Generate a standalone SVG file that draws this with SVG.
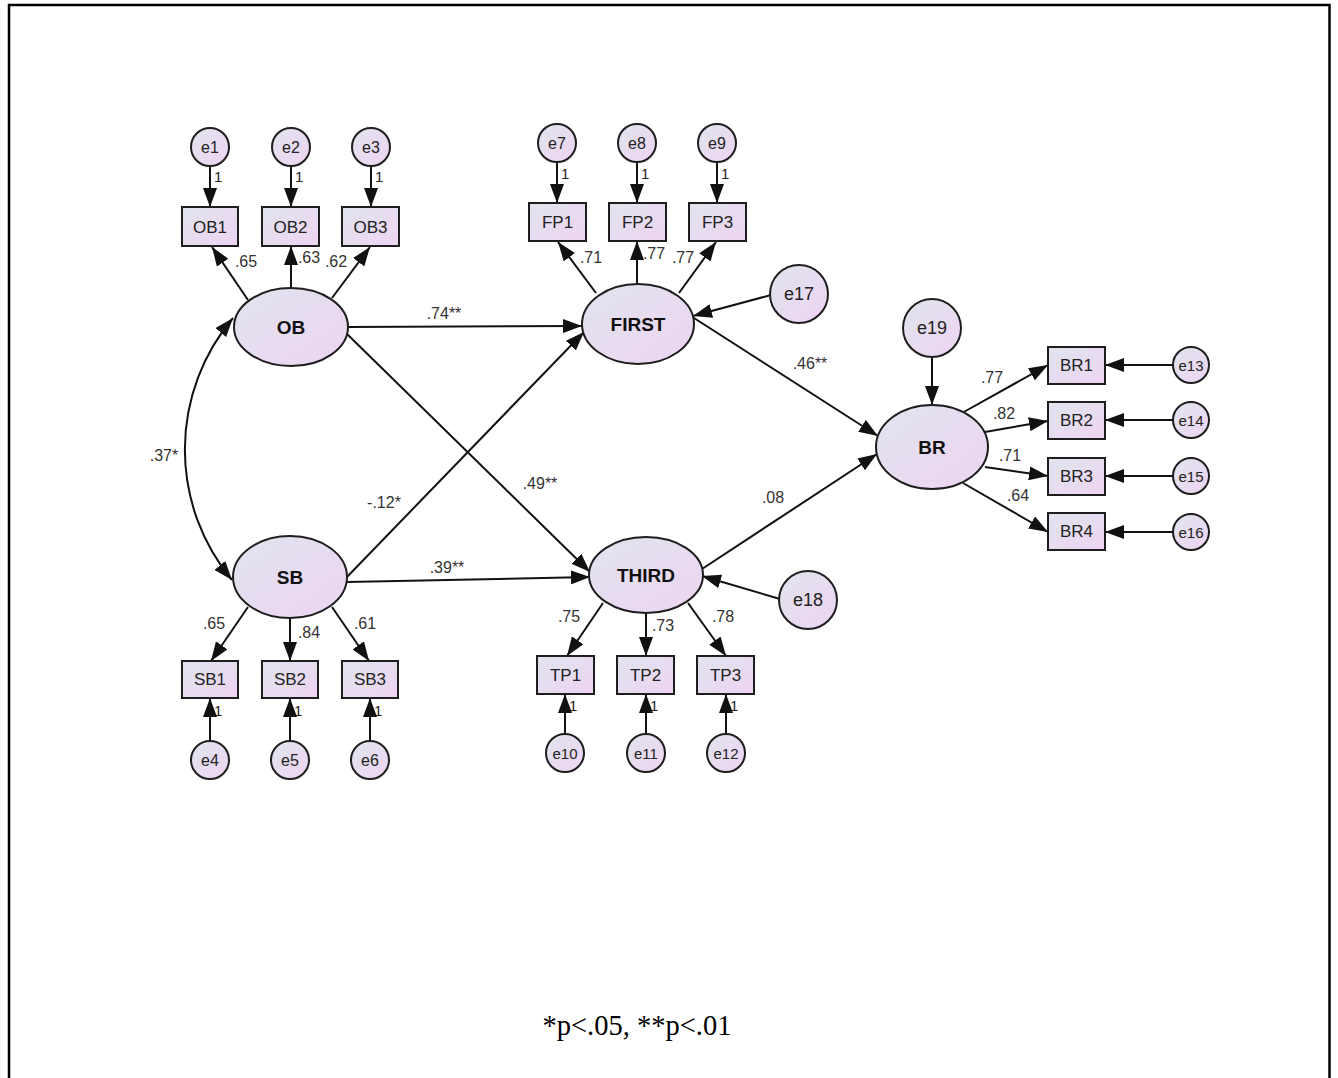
<svg xmlns="http://www.w3.org/2000/svg" width="1338" height="1078" viewBox="0 0 1338 1078">
  <style>
    .shape { fill: url(#fillGrad); stroke: #1e1e1e; stroke-width: 2; }
    .edge { fill: none; stroke: #111; stroke-width: 2; marker-end: url(#arrow); }
    .lat { font-family: "Liberation Sans", Arial, sans-serif; font-weight: bold; font-size: 19px; fill: #111; text-anchor: middle; dominant-baseline: central; }
    .obs { font-family: "Liberation Sans", Arial, sans-serif; font-size: 17px; fill: #222; text-anchor: middle; dominant-baseline: central; }
    .err { font-family: "Liberation Sans", Arial, sans-serif; font-size: 16px; fill: #222; text-anchor: middle; dominant-baseline: central; }
    .errS { font-family: "Liberation Sans", Arial, sans-serif; font-size: 15px; fill: #222; text-anchor: middle; dominant-baseline: central; }
    .errL { font-family: "Liberation Sans", Arial, sans-serif; font-size: 18px; fill: #222; text-anchor: middle; dominant-baseline: central; }
    .coef { font-family: "Liberation Sans", Arial, sans-serif; font-size: 16px; fill: #333; text-anchor: middle; dominant-baseline: central; }
    .one { font-family: "Liberation Sans", Arial, sans-serif; font-size: 15px; fill: #222; text-anchor: start; dominant-baseline: central; }
    .note { font-family: "Liberation Serif", "Times New Roman", serif; font-size: 28.5px; fill: #000; text-anchor: middle; }
  </style>
  <defs>
    <linearGradient id="fillGrad" x1="0" y1="0" x2="1" y2="1">
      <stop offset="0" stop-color="#e0e4ee"/>
      <stop offset="1" stop-color="#eed4f2"/>
    </linearGradient>
    <marker id="arrow" markerUnits="userSpaceOnUse" markerWidth="19" markerHeight="14" refX="19" refY="7" orient="auto-start-reverse">
      <path d="M0,0 L19,7 L0,14 z" fill="#111"/>
    </marker>
  </defs>

  <rect width="1338" height="1078" fill="#fff"/>
  <!-- outer frame, open at the bottom -->
  <path d="M9,1078 V5 H1329.5 V1078" fill="none" stroke="#000" stroke-width="2.5"/>

  <!-- connectors -->
  <g id="connectors">
    <!-- covariance OB <-> SB -->
    <path class="edge" d="M232,580 A204,204 0 0 1 233,318" marker-start="url(#arrow)"/>
    <!-- structural paths -->
    <path class="edge" d="M348,327 L582,326"/>
    <path class="edge" d="M346,333 L590,572"/>
    <path class="edge" d="M346,578 L584,332"/>
    <path class="edge" d="M347,582 L590,577"/>
    <path class="edge" d="M694,318 L878,436"/>
    <path class="edge" d="M702,569 L877,454"/>
    <!-- disturbances -->
    <path class="edge" d="M771,295 L693,316"/>
    <path class="edge" d="M780,599 L702,576"/>
    <path class="edge" d="M932,357 L932,405"/>
    <!-- OB loadings -->
    <path class="edge" d="M248,300 L212,247"/>
    <path class="edge" d="M291,288 L291,246"/>
    <path class="edge" d="M332,298 L370,247"/>
    <path class="edge" d="M210,166 L210,207"/>
    <path class="edge" d="M291,166 L291,207"/>
    <path class="edge" d="M371,166 L371,207"/>
    <!-- FIRST loadings -->
    <path class="edge" d="M596,293 L558,242"/>
    <path class="edge" d="M637,284 L637,241"/>
    <path class="edge" d="M679,293 L716,242"/>
    <path class="edge" d="M557,162 L557,203"/>
    <path class="edge" d="M637,162 L637,203"/>
    <path class="edge" d="M717,162 L717,203"/>
    <!-- SB loadings -->
    <path class="edge" d="M248,607 L211,661"/>
    <path class="edge" d="M290,618 L290,661"/>
    <path class="edge" d="M332,607 L369,661"/>
    <path class="edge" d="M210,741 L210,698"/>
    <path class="edge" d="M290,741 L290,698"/>
    <path class="edge" d="M370,741 L370,698"/>
    <!-- THIRD loadings -->
    <path class="edge" d="M603,603 L567,656"/>
    <path class="edge" d="M646,613 L646,656"/>
    <path class="edge" d="M688,603 L726,656"/>
    <path class="edge" d="M565,734 L565,694"/>
    <path class="edge" d="M646,734 L646,694"/>
    <path class="edge" d="M726,734 L726,694"/>
    <!-- BR loadings -->
    <path class="edge" d="M962,413 L1048,365"/>
    <path class="edge" d="M985,432 L1048,421"/>
    <path class="edge" d="M985,467 L1048,476"/>
    <path class="edge" d="M963,483 L1048,532"/>
    <path class="edge" d="M1173,365 L1105,365"/>
    <path class="edge" d="M1173,420 L1105,420"/>
    <path class="edge" d="M1173,476 L1105,476"/>
    <path class="edge" d="M1173,532 L1105,532"/>
  </g>

  <!-- coefficient labels -->
  <g id="coefficients">
    <text class="coef" x="164" y="455">.37*</text>
    <text class="coef" x="444" y="313">.74**</text>
    <text class="coef" x="540" y="483">.49**</text>
    <text class="coef" x="384" y="502">-.12*</text>
    <text class="coef" x="447" y="567">.39**</text>
    <text class="coef" x="810" y="363">.46**</text>
    <text class="coef" x="773" y="497">.08</text>
    <text class="coef" x="246" y="261">.65</text>
    <text class="coef" x="309" y="257">.63</text>
    <text class="coef" x="336" y="261">.62</text>
    <text class="coef" x="591" y="257">.71</text>
    <text class="coef" x="654" y="253">.77</text>
    <text class="coef" x="683" y="257">.77</text>
    <text class="coef" x="214" y="623">.65</text>
    <text class="coef" x="309" y="632">.84</text>
    <text class="coef" x="365" y="623">.61</text>
    <text class="coef" x="569" y="616">.75</text>
    <text class="coef" x="663" y="625">.73</text>
    <text class="coef" x="723" y="616">.78</text>
    <text class="coef" x="992" y="377">.77</text>
    <text class="coef" x="1004" y="413">.82</text>
    <text class="coef" x="1010" y="455">.71</text>
    <text class="coef" x="1018" y="495">.64</text>
    <text class="one" x="214" y="176">1</text>
    <text class="one" x="295" y="176">1</text>
    <text class="one" x="375" y="176">1</text>
    <text class="one" x="561" y="173">1</text>
    <text class="one" x="641" y="173">1</text>
    <text class="one" x="721" y="173">1</text>
    <text class="one" x="214" y="710">1</text>
    <text class="one" x="294" y="710">1</text>
    <text class="one" x="374" y="710">1</text>
    <text class="one" x="569" y="705">1</text>
    <text class="one" x="650" y="705">1</text>
    <text class="one" x="730" y="705">1</text>
  </g>

  <!-- latent variables -->
  <g id="OB"><ellipse class="shape" cx="291" cy="327" rx="57" ry="39"/><text class="lat" x="291" y="327">OB</text></g>
  <g id="SB"><ellipse class="shape" cx="290" cy="577" rx="57" ry="41"/><text class="lat" x="290" y="577">SB</text></g>
  <g id="FIRST"><ellipse class="shape" cx="638" cy="324" rx="56" ry="40"/><text class="lat" x="638" y="324">FIRST</text></g>
  <g id="THIRD"><ellipse class="shape" cx="646" cy="575" rx="57" ry="38"/><text class="lat" x="646" y="575">THIRD</text></g>
  <g id="BR"><ellipse class="shape" cx="932" cy="447" rx="56" ry="42"/><text class="lat" x="932" y="447">BR</text></g>

  <!-- observed indicators -->
  <g id="OB1"><rect class="shape" x="182" y="207" width="56" height="39"/><text class="obs" x="210" y="227">OB1</text></g>
  <g id="OB2"><rect class="shape" x="262" y="207" width="57" height="39"/><text class="obs" x="290.5" y="227">OB2</text></g>
  <g id="OB3"><rect class="shape" x="342" y="207" width="57" height="39"/><text class="obs" x="370.5" y="227">OB3</text></g>
  <g id="FP1"><rect class="shape" x="529" y="203" width="57" height="38"/><text class="obs" x="557.5" y="222">FP1</text></g>
  <g id="FP2"><rect class="shape" x="609" y="203" width="57" height="38"/><text class="obs" x="637.5" y="222">FP2</text></g>
  <g id="FP3"><rect class="shape" x="689" y="203" width="57" height="38"/><text class="obs" x="717.5" y="222">FP3</text></g>
  <g id="SB1"><rect class="shape" x="182" y="661" width="56" height="37"/><text class="obs" x="210" y="679.5">SB1</text></g>
  <g id="SB2"><rect class="shape" x="262" y="661" width="56" height="37"/><text class="obs" x="290" y="679.5">SB2</text></g>
  <g id="SB3"><rect class="shape" x="342" y="661" width="56" height="37"/><text class="obs" x="370" y="679.5">SB3</text></g>
  <g id="TP1"><rect class="shape" x="537" y="656" width="57" height="38"/><text class="obs" x="565.5" y="675">TP1</text></g>
  <g id="TP2"><rect class="shape" x="617" y="656" width="57" height="38"/><text class="obs" x="645.5" y="675">TP2</text></g>
  <g id="TP3"><rect class="shape" x="697" y="656" width="57" height="38"/><text class="obs" x="725.5" y="675">TP3</text></g>
  <g id="BR1"><rect class="shape" x="1048" y="347" width="57" height="37"/><text class="obs" x="1076.5" y="365.5">BR1</text></g>
  <g id="BR2"><rect class="shape" x="1048" y="402" width="57" height="37"/><text class="obs" x="1076.5" y="420.5">BR2</text></g>
  <g id="BR3"><rect class="shape" x="1048" y="458" width="57" height="37"/><text class="obs" x="1076.5" y="476.5">BR3</text></g>
  <g id="BR4"><rect class="shape" x="1048" y="513" width="57" height="37"/><text class="obs" x="1076.5" y="531.5">BR4</text></g>

  <!-- error terms -->
  <g id="e1"><circle class="shape" cx="210" cy="147" r="19"/><text class="err" x="210" y="147">e1</text></g>
  <g id="e2"><circle class="shape" cx="291" cy="147" r="19"/><text class="err" x="291" y="147">e2</text></g>
  <g id="e3"><circle class="shape" cx="371" cy="147" r="19"/><text class="err" x="371" y="147">e3</text></g>
  <g id="e7"><circle class="shape" cx="557" cy="143" r="19"/><text class="err" x="557" y="143">e7</text></g>
  <g id="e8"><circle class="shape" cx="637" cy="143" r="19"/><text class="err" x="637" y="143">e8</text></g>
  <g id="e9"><circle class="shape" cx="717" cy="143" r="19"/><text class="err" x="717" y="143">e9</text></g>
  <g id="e4"><circle class="shape" cx="210" cy="760" r="19"/><text class="err" x="210" y="760">e4</text></g>
  <g id="e5"><circle class="shape" cx="290" cy="760" r="19"/><text class="err" x="290" y="760">e5</text></g>
  <g id="e6"><circle class="shape" cx="370" cy="760" r="19"/><text class="err" x="370" y="760">e6</text></g>
  <g id="e10"><circle class="shape" cx="565" cy="753" r="19"/><text class="errS" x="565" y="753">e10</text></g>
  <g id="e11"><circle class="shape" cx="646" cy="753" r="19"/><text class="errS" x="646" y="753">e11</text></g>
  <g id="e12"><circle class="shape" cx="726" cy="753" r="19"/><text class="errS" x="726" y="753">e12</text></g>
  <g id="e13"><circle class="shape" cx="1191" cy="365" r="18"/><text class="errS" x="1191" y="365">e13</text></g>
  <g id="e14"><circle class="shape" cx="1191" cy="420" r="18"/><text class="errS" x="1191" y="420">e14</text></g>
  <g id="e15"><circle class="shape" cx="1191" cy="476" r="18"/><text class="errS" x="1191" y="476">e15</text></g>
  <g id="e16"><circle class="shape" cx="1191" cy="532" r="18"/><text class="errS" x="1191" y="532">e16</text></g>
  <g id="e17"><circle class="shape" cx="799" cy="294" r="29"/><text class="errL" x="799" y="294">e17</text></g>
  <g id="e18"><circle class="shape" cx="808" cy="600" r="29"/><text class="errL" x="808" y="600">e18</text></g>
  <g id="e19"><circle class="shape" cx="932" cy="328" r="29"/><text class="errL" x="932" y="328">e19</text></g>

  <text class="note" x="637" y="1035">*p&lt;.05, **p&lt;.01</text>
</svg>
